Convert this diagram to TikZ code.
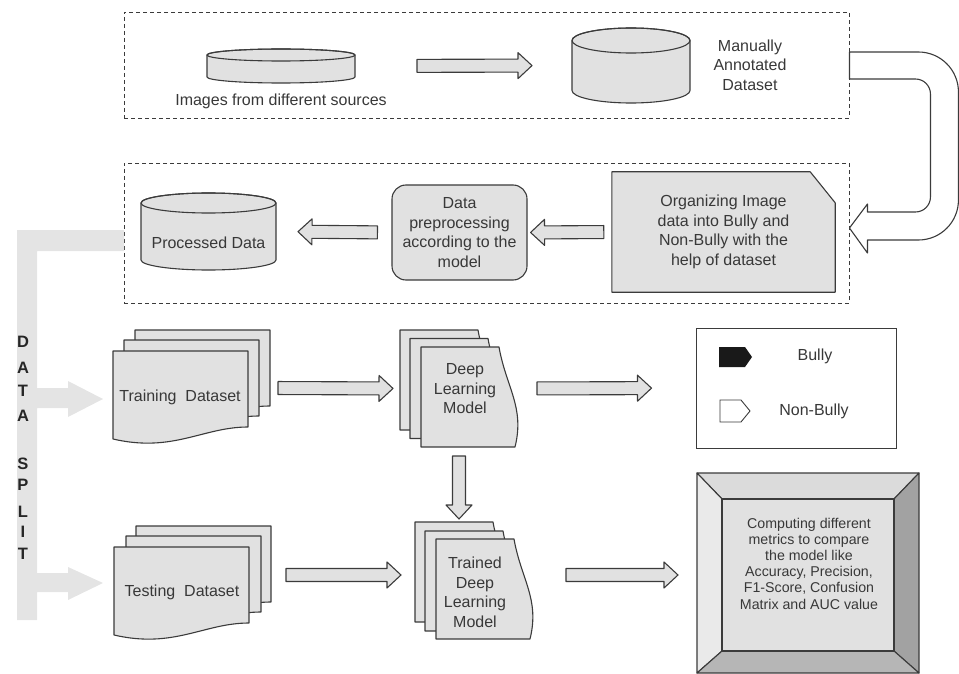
\documentclass[tikz,border=0pt]{standalone}
\usepackage{fontspec}
\setmainfont{Liberation Sans}
\usetikzlibrary{calc,backgrounds}

\definecolor{ink}{HTML}{3B3B3B}
\definecolor{txt}{HTML}{383838}
\definecolor{shade}{HTML}{E1E1E1}
\definecolor{splitgray}{HTML}{E4E4E4}
\definecolor{bevtop}{HTML}{DBDBDB}
\definecolor{bevleft}{HTML}{EAEAEA}
\definecolor{bevright}{HTML}{A2A2A2}
\definecolor{bevbottom}{HTML}{B6B6B6}

\tikzset{
  outline/.style={draw=ink, line width=1.1pt, fill=shade, line join=round},
  groupbox/.style={draw=ink, line width=0.9pt, dash pattern=on 4pt off 3pt, inner sep=0pt},
  area/.style={inner sep=0pt, outer sep=0pt},
  lbl/.style={text=txt, font=\fontsize{16}{19.5}\selectfont, align=center, inner sep=0pt},
  smalllbl/.style={text=txt, font=\fontsize{14.2}{16.2}\selectfont, align=center, inner sep=0pt},
  splitletter/.style={text=black!85, font=\fontsize{16.5}{18}\selectfont\bfseries, inner sep=0pt},
  % page with a wavy lower edge
  sheet/.pic={\filldraw[outline] (0,0) -- (135,0) -- (135,-76)
      .. controls (90,-76) and (60,-102) .. (0,-88) -- cycle;},
  % page with a wavy right edge
  wavesheet/.pic={\filldraw[outline] (0,0) -- (78,0)
      .. controls (85,-40) and (104,-60) .. (94,-100) -- (0,-100) -- cycle;},
}

% hollow block arrow from #1 to #2
\newcommand\blockarrow[2]{%
  \coordinate (ba-s) at #1;
  \coordinate (ba-e) at #2;
  \coordinate (ba-h) at ($(ba-e)!14pt!(ba-s)$);
  \filldraw[outline] ($(ba-s)!6.5pt!90:(ba-e)$) -- ($(ba-h)!6.5pt!-90:(ba-s)$)
    -- ($(ba-h)!13pt!-90:(ba-s)$) -- (ba-e) -- ($(ba-h)!13pt!90:(ba-s)$)
    -- ($(ba-h)!6.5pt!90:(ba-s)$) -- ($(ba-s)!6.5pt!-90:(ba-e)$) -- cycle;
}

% database drum: centre x, radius x, top y, bottom y, radius y
\newcommand\drum[5]{%
  \filldraw[outline] (#1-#2,#3) -- (#1-#2,#4)
    arc[start angle=180,end angle=360,x radius=#2pt,y radius=#5pt]
    -- (#1+#2,#3)
    arc[start angle=0,end angle=180,x radius=#2pt,y radius=#5pt] -- cycle;
  \draw[outline, fill=none] (#1,#3) ellipse[x radius=#2pt, y radius=#5pt];
}

\begin{document}
\begin{tikzpicture}[x=1pt,y=1pt]
\useasboundingbox (0,0) rectangle (959,-674);

% ---------- group frames ----------
\node[groupbox, minimum width=725pt, minimum height=106pt] (grp1) at (486.5,-65) {};
\node[groupbox, minimum width=725pt, minimum height=140pt] (grp2) at (486.5,-233) {};

% ---------- acquisition ----------
\drum{281}{74}{-55}{-77}{6}
\node[area, minimum width=148pt, minimum height=34pt] (src) at (281,-66) {};
\node[lbl] (srclbl) at (281,-101) {Images from different sources};

\drum{631}{59}{-40.5}{-90.5}{12.5}
\node[area, minimum width=118pt, minimum height=75pt] (ann) at (631,-65.5) {};
\node[lbl] (annlbl) at (750,-65) {Manually\\Annotated\\Dataset};

\blockarrow{($(src.east)!62pt!(ann.west)$)}{($(ann.west)!40pt!(src.east)$)}

% ---------- U-turn into the second stage ----------
\filldraw[outline, fill=white] ($(grp1.east)+(0,13)$) -- ++(69,0)
  arc[start angle=90,end angle=0,radius=40pt] -- ++(0,-108)
  arc[start angle=0,end angle=-90,radius=40pt] -- ++(-51,0) -- ++(0,-13)
  -- ++(-18,25) -- ++(18,24) -- ++(0,-8) -- ++(48,0)
  arc[start angle=-90,end angle=0,radius=15pt] -- ++(0,103)
  arc[start angle=0,end angle=90,radius=15pt] -- ++(-66,0) -- cycle;

% ---------- preparation ----------
\node[lbl, minimum width=223pt, minimum height=120pt] (org) at (723.5,-232)
  {Organizing Image\\data into Bully and\\Non-Bully with the\\help of dataset};
\begin{scope}[on background layer]
  \filldraw[outline] (org.north west) -- ($(org.north east)+(-25,0)$)
    -- ($(org.north east)+(0,-31)$) -- (org.south east) -- (org.south west) -- cycle;
\end{scope}

\node[outline, lbl, rounded corners=14pt, minimum width=135pt, minimum height=95pt]
  (prep) at (459.5,-232.5) {Data\\preprocessing\\according to the\\model};

\drum{208.5}{67.5}{-203}{-260}{10}
\node[area, minimum width=135pt, minimum height=77pt] (proc) at (208.5,-231.5) {};
\node[lbl] (proclbl) at (208.5,-243) {Processed Data};

\blockarrow{($(org.west)!8pt!(prep.east)$)}{($(prep.east)!3pt!(org.west)$)}
\blockarrow{($(prep.west)!14pt!(proc.east)$)}{($(proc.east)!22pt!(prep.west)$)}

% ---------- data split ----------
\fill[splitgray] (124,-230) -- (17,-230) -- (17,-620) -- (37,-620) -- (37,-592)
  -- (68,-592) -- (68,-600) -- (103,-583) -- (68,-567) -- (68,-573) -- (37,-573)
  -- (37,-408) -- (68,-408) -- (68,-417) -- (103,-399) -- (68,-381) -- (68,-388)
  -- (37,-388) -- (37,-251) -- (124,-251) -- cycle;
\foreach \ch/\yy [count=\i] in {D/342,A/368,T/391,A/416,S/464,P/485,L/512,I/532,T/553.5}
  \node[splitletter] (split\i) at (23,-\yy) {\ch};

% ---------- training branch ----------
\pic at (135,-330) {sheet};
\pic at (124,-340) {sheet};
\pic at (113,-351) {sheet};
\node[area, minimum width=157pt, minimum height=116pt] (train) at (191.5,-388) {};
\node[lbl] (trainlbl) at (180,-397) {Training\ \ Dataset};

\pic at (400,-330) {wavesheet};
\pic at (410,-338.5) {wavesheet};
\pic at (421,-347) {wavesheet};
\node[area, minimum width=118pt, minimum height=117pt] (dl) at (459,-388.5) {};
\node[lbl] (dllbl) at (465,-389) {Deep\\Learning\\Model};

% ---------- testing branch ----------
\pic at (136,-526) {sheet};
\pic at (126,-536) {sheet};
\pic at (114,-547) {sheet};
\node[area, minimum width=159pt, minimum height=116pt] (test) at (193.5,-584) {};
\node[lbl] (testlbl) at (182,-592) {Testing\ \ Dataset};

\pic at (415,-522) {wavesheet};
\pic at (425,-531) {wavesheet};
\pic at (436,-539) {wavesheet};
\node[area, minimum width=120pt, minimum height=117pt] (trained) at (475,-580.5) {};
\node[lbl] (trainedlbl) at (475,-592.5) {Trained\\Deep\\Learning\\Model};

% ---------- legend ----------
\node[draw=ink, line width=1pt, fill=white, minimum width=200pt, minimum height=120pt]
  (legend) at (796,-388) {};
\fill[black!90] (719,-347) -- (745,-347) -- (752,-357) -- (745,-367) -- (719,-367) -- cycle;
\filldraw[draw=ink, line width=0.9pt, fill=white] (720,-400) -- (741,-400) -- (750,-411)
  -- (741,-422) -- (720,-422) -- cycle;
\node[lbl] (bully) at (815,-356) {Bully};
\node[lbl] (nonbully) at (814,-411) {Non-Bully};

% ---------- evaluation ----------
\begin{scope}[draw=ink, line width=1.1pt, line join=round]
  \filldraw[fill=bevtop] (697,-473) -- (919,-473) -- (894,-499) -- (722,-499) -- cycle;
  \filldraw[fill=bevleft] (697,-473) -- (722,-499) -- (722,-651) -- (697,-673) -- cycle;
  \filldraw[fill=bevright] (919,-473) -- (919,-673) -- (894,-651) -- (894,-499) -- cycle;
  \filldraw[fill=bevbottom] (697,-673) -- (722,-651) -- (894,-651) -- (919,-673) -- cycle;
  \filldraw[fill=shade] (722,-499) rectangle (894,-651);
\end{scope}
\node[area, minimum width=222pt, minimum height=200pt] (metrics) at (808,-573) {};
\node[smalllbl] (metricslbl) at (809,-563.5) {Computing different\\metrics to compare\\the model like\\Accuracy, Precision,\\F1-Score, Confusion\\Matrix and AUC value};

% ---------- flow between stages ----------
\blockarrow{($(train.east)!8pt!(dl.west)$)}{($(dl.west)!7pt!(train.east)$)}
\blockarrow{($(dl.east)!19pt!(legend.west)$)}{($(legend.west)!44pt!(dl.east)$)}
\blockarrow{($(dl.south)+(0,-9)$)}{($(dl.south |- trained.north)+(0,3)$)}
\blockarrow{($(test.east)+(13,9)$)}{($(trained.west)+(-14,5.5)$)}
\blockarrow{($(trained.east)+(31,5.5)$)}{($(metrics.west)+(-19,-2)$)}

\end{tikzpicture}
\end{document}
